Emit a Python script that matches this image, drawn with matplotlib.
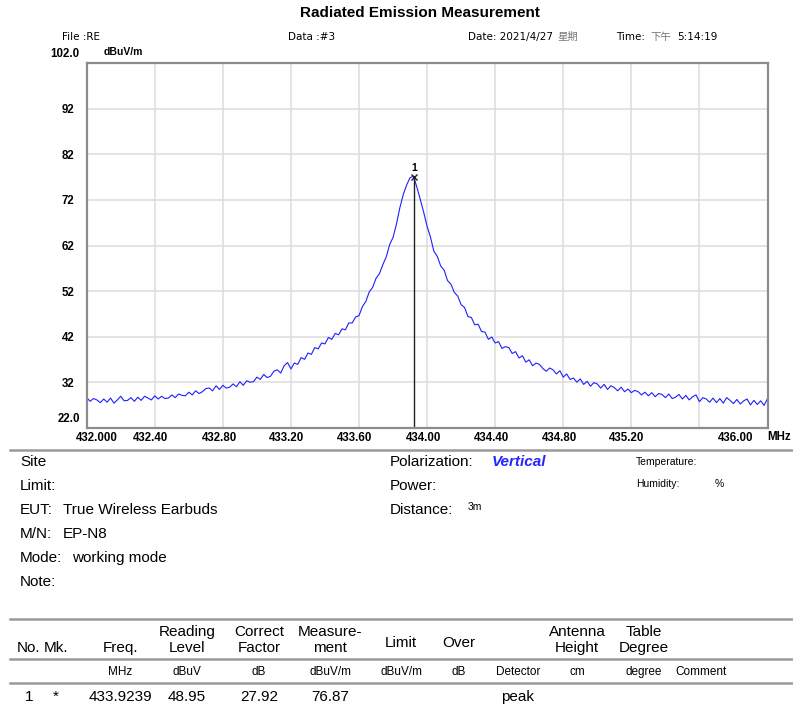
import numpy as np
import matplotlib.pyplot as plt
from matplotlib.lines import Line2D
from matplotlib.transforms import ScaledTranslation

W, H = 793, 709

# sweep, MHz
freq_start = 432.0
freq_stop = 436.0
level = [
    28.6, 27.8, 28.4, 28.1, 27.5, 28.3, 27.6, 28.5, 27.4, 28.1,
    28.9, 27.9, 28.0, 28.6, 27.8, 28.7, 28.0, 28.9, 28.5, 28.1,
    29.0, 28.3, 28.9, 28.4, 28.5, 29.2, 28.6, 29.4, 29.1, 29.0,
    29.8, 29.2, 30.1, 29.5, 29.9, 30.6, 30.7, 30.1, 31.2, 30.4,
    31.3, 30.7, 30.9, 31.6, 31.0, 32.1, 31.3, 32.3, 32.0, 32.1,
    33.1, 32.6, 33.7, 33.0, 33.3, 34.4, 34.7, 34.0, 35.6, 36.3,
    34.9, 36.2, 35.9, 37.4, 37.0, 38.4, 38.1, 39.6, 39.3, 40.6,
    40.4, 41.8, 41.4, 42.7, 42.4, 43.7, 43.5, 45.0, 45.0, 46.3,
    46.6, 48.6, 49.7, 51.8, 52.8, 54.8, 55.8, 57.8, 59.5, 62.2,
    63.8, 66.7, 70.3, 73.2, 75.3, 76.9, 77.2, 74.8, 72.1, 69.3,
    66.2, 63.8, 60.7, 59.6, 57.5, 56.6, 54.3, 53.5, 51.7, 50.9,
    49.0, 48.4, 46.4, 46.2, 44.6, 44.7, 43.1, 43.0, 41.4, 41.9,
    40.6, 40.9, 39.4, 39.8, 39.6, 38.3, 38.7, 37.3, 37.8, 36.4,
    36.9, 35.6, 36.2, 35.9, 35.0, 34.4, 35.1, 34.7, 33.8, 34.5,
    33.1, 33.8, 32.6, 32.9, 32.0, 32.7, 31.5, 32.2, 31.1, 31.9,
    31.6, 30.7, 31.5, 30.4, 31.2, 30.8, 30.1, 30.9, 29.9, 30.5,
    29.7, 30.2, 29.9, 29.2, 29.8, 29.0, 29.7, 28.8, 29.5, 29.3,
    28.6, 29.4, 28.4, 28.7, 29.3, 28.3, 29.1, 28.1, 28.8, 29.2,
    27.7, 28.6, 28.3, 27.6, 28.5, 27.5, 28.4, 27.4, 28.6, 28.0,
    27.3, 28.2, 27.2, 27.9, 28.3, 27.0, 28.0, 27.1, 27.9, 26.9,
    28.4,
]
freq = np.linspace(freq_start, freq_stop, len(level))

marker_freq = 433.9239
marker_level = 77.1

xticks = [432.0, 432.4, 432.8, 433.2, 433.6, 434.0, 434.4, 434.8, 435.2, 435.6, 436.0]
xlabels = ['432.000', '432.40', '432.80', '433.20', '433.60', '434.00',
           '434.40', '434.80', '435.20', '', '436.00']
yticks = [22, 32, 42, 52, 62, 72, 82, 92, 102]
ylabels = ['22.0', '32', '42', '52', '62', '72', '82', '92', '102.0']

# table
col_head1 = ['', '', '', 'Reading', 'Correct', 'Measure-', '', '', '', 'Antenna', 'Table', '']
col_head2 = ['No.', 'Mk.', 'Freq.', 'Level', 'Factor', 'ment', 'Limit', 'Over', '', 'Height', 'Degree', '']
col_units = ['', '', 'MHz', 'dBuV', 'dB', 'dBuV/m', 'dBuV/m', 'dB', 'Detector', 'cm', 'degree', 'Comment']
row1 = ['1', '*', '433.9239', '48.95', '27.92', '76.87', '', '', 'peak', '', '', '']
col_x = [29, 56, 120, 187, 259, 330, 401, 459, 518, 577, 644, 701]

ARIAL = ['Liberation Sans', 'DejaVu Sans', 'Noto Sans CJK SC']
HEAD = ['DejaVu Sans', 'Noto Sans CJK SC']


def px(x, y):
    return x / W, 1 - y / H


def ftext(x, y, s, **kw):
    kw.setdefault('family', ARIAL)
    kw.setdefault('va', 'center')
    return fig.text(*px(x, y), s, **kw)


fig = plt.figure(figsize=(W / 100, H / 100), dpi=100)
fig.patch.set_facecolor('white')

left, right, top, bottom = 86.7, 767.5, 63.3, 427.7
ax = fig.add_axes([left / W, 1 - bottom / H, (right - left) / W, (bottom - top) / H])
ax.plot(freq, level, color='#1f1fff', lw=0.8)
ax.vlines(marker_freq, 22, marker_level, color='#202020', lw=1)
ax.plot([marker_freq], [marker_level], marker='x', color='#202020', ms=5, mew=1)
ax.annotate('1', (marker_freq, marker_level), xytext=(0, 2.5), textcoords='offset points',
            ha='center', va='bottom', fontsize=7.5, fontweight='bold', family=ARIAL)

ax.set_xlim(freq_start, freq_stop)
ax.set_ylim(22, 102)
ax.set_xticks(xticks)
ax.set_xticklabels(xlabels, fontsize=8.3, fontweight='bold', family=ARIAL)
ax.set_yticks(yticks)
ax.set_yticklabels(ylabels, fontsize=8.3, fontweight='bold', family=ARIAL, ha='center')
ax.tick_params(axis='both', length=0)
ax.tick_params(axis='x', pad=3.2)
ax.tick_params(axis='y', pad=13.5)
ax.grid(True, color='#dcdcdc', lw=1.1)
for s in ax.spines.values():
    s.set_color('#8c8c8c')
    s.set_linewidth(1.6)

dpi_tr = fig.dpi_scale_trans
xshift = [10, -4, -3, -4, -4, -4, -4, -4, -5, 0, -32]
for lab, dx in zip(ax.get_xticklabels(), xshift):
    lab.set_transform(lab.get_transform() + ScaledTranslation(dx / 100, 0, dpi_tr))
ylabs = ax.get_yticklabels()
ylabs[0].set_transform(ylabs[0].get_transform() + ScaledTranslation(1 / 100, 10 / 100, dpi_tr))
ylabs[-1].set_transform(ylabs[-1].get_transform() + ScaledTranslation(-3 / 100, 11 / 100, dpi_tr))

# header
ftext(420, 13, 'Radiated Emission Measurement', fontsize=11, fontweight='bold', ha='center')
ftext(62, 37, 'File :RE', fontsize=7.5, family=HEAD)
ftext(288, 37, 'Data :#3', fontsize=7.5, family=HEAD)
ftext(468, 37, 'Date: 2021/4/27', fontsize=7.5, family=HEAD)
ftext(557, 37, '星期', fontsize=7.5, family=HEAD, color='#777777')
ftext(616, 37, 'Time:', fontsize=7.5, family=HEAD)
ftext(650, 37, '下午', fontsize=7.5, family=HEAD, color='#777777')
ftext(677, 37, '5:14:19', fontsize=7.5, family=HEAD)
ftext(104, 52, 'dBuV/m', fontsize=7.5, fontweight='bold', family=ARIAL)
ftext(779, 437, 'MHz', fontsize=8.3, fontweight='bold', family=ARIAL, ha='center')

# separators
for yy in [450, 619, 659, 683]:
    fig.add_artist(Line2D([10 / W, 1], [1 - yy / H] * 2, color='#9a9a9a', lw=1.8))

# info block
fs = 11
ftext(20, 462, 'Site', fontsize=fs)
ftext(20, 486, 'Limit:', fontsize=fs)
ftext(20, 510, 'EUT:', fontsize=fs)
ftext(63, 510, 'True Wireless Earbuds', fontsize=fs)
ftext(20, 534, 'M/N:', fontsize=fs)
ftext(63, 534, 'EP-N8', fontsize=fs)
ftext(20, 558, 'Mode:', fontsize=fs)
ftext(72, 558, 'working mode', fontsize=fs)
ftext(20, 582, 'Note:', fontsize=fs)
ftext(390, 462, 'Polarization:', fontsize=fs)
ftext(492, 462, 'Vertical', fontsize=fs, fontweight='bold', style='italic', color='#2525ff')
ftext(390, 486, 'Power:', fontsize=fs)
ftext(390, 510, 'Distance:', fontsize=fs)
ftext(468, 507, '3m', fontsize=7.5)
ftext(636, 462, 'Temperature:', fontsize=7.5)
ftext(636, 484, 'Humidity:', fontsize=7.5)
ftext(715, 484, '%', fontsize=7.5)

# table
for i, x in enumerate(col_x):
    if col_head1[i]:
        ftext(x, 632, col_head1[i], fontsize=fs, ha='center')
        ftext(x, 648, col_head2[i], fontsize=fs, ha='center')
    elif col_head2[i]:
        ftext(x, 648 if i < 3 else 643, col_head2[i], fontsize=fs, ha='center')
    if col_units[i]:
        ftext(x, 672, col_units[i], fontsize=8.5, ha='center')
    if row1[i]:
        ftext(x, 697, row1[i], fontsize=fs, ha='center')

fig.savefig('out.png', dpi=100)
